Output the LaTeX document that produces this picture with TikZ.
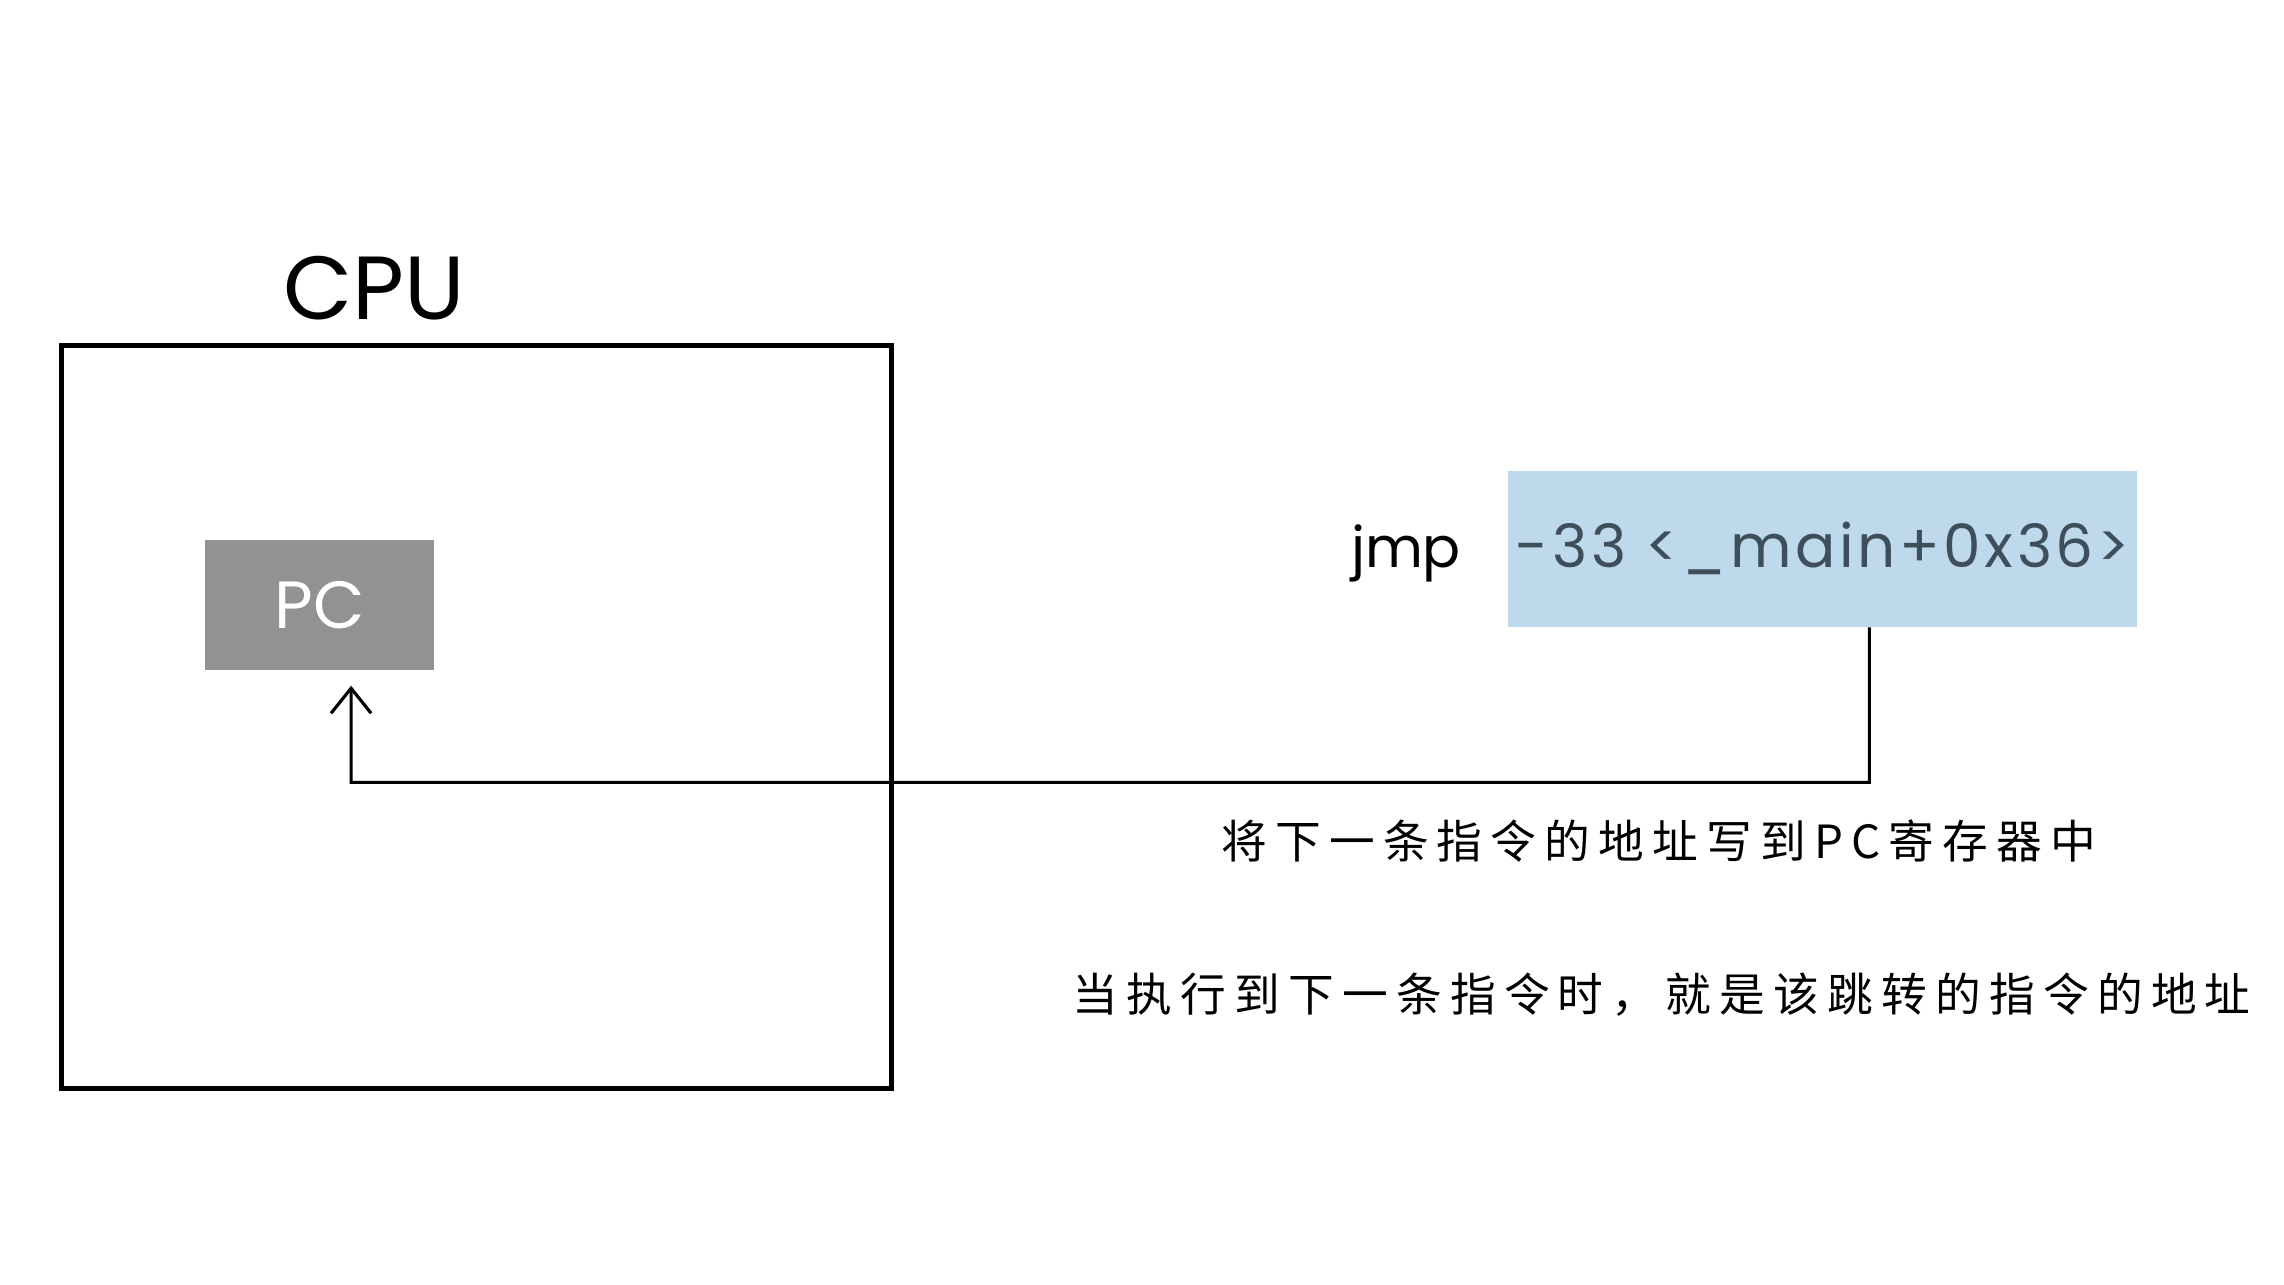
\documentclass[tikz,border=0pt]{standalone}
\usepackage{fontspec}
\setmainfont{Poppins}
\newfontfamily\cjk{Noto Sans CJK SC}[LetterSpace=18]
\newfontfamily\codefont{Poppins}[LetterSpace=6]
\usetikzlibrary{arrows.meta}
\definecolor{regfill}{HTML}{929292}
\definecolor{addrfill}{HTML}{BED9EB}
\definecolor{addrtext}{HTML}{3E4E5A}

\begin{document}
\begin{tikzpicture}
  [every node/.style={inner sep=0pt},
   reg/.style={fill=regfill,minimum width=2.29cm,minimum height=1.3cm,text=white,font=\fontsize{19}{22}\selectfont},
   addr/.style={fill=addrfill,minimum width=6.29cm,minimum height=1.56cm,text=addrtext,font=\codefont\fontsize{17}{20}\selectfont},
   note/.style={font=\cjk\fontsize{13}{16}\selectfont},
   jump/.style={-{Straight Barb[length=2.5mm,width=4mm]},line width=0.9pt}]
  \useasboundingbox (0,0) rectangle (22.84,-12.85);
  \node (cpu) [draw,line width=1.3pt,minimum width=8.3cm,minimum height=7.43cm] at (4.765,-7.168) {};
  \node (cpuname) [font=\fontsize{25.5}{30}\selectfont] at (3.745,-2.885) {CPU};
  \node (pc) [reg] at (3.198,-6.054) {PC};
  \node (addr) [addr] at (18.227,-5.486) {-33 <\_main+0x36>};
  \node (jmp) [font=\fontsize{16}{18}\selectfont] at (14.06,-5.537) {jmp};
  \node (write) [note] at (16.588,-8.407) {将下一条指令的地址写到PC寄存器中};
  \node (next) [note] at (16.617,-9.951) {当执行到下一条指令时，就是该跳转的指令的地址};
  \coordinate (low) at (3.511,-7.824);
  \draw[jump] ([xshift=4.66mm]addr.south) |- (low) -- ([xshift=3.13mm,yshift=-1.46mm]pc.south);
\end{tikzpicture}
\end{document}
